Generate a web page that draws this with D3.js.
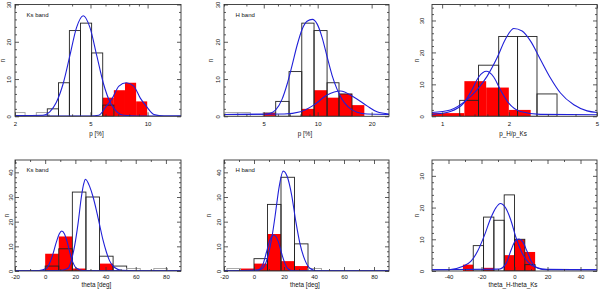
<!DOCTYPE html>
<html>
<head>
<meta charset="utf-8">
<script src="https://cdn.jsdelivr.net/npm/d3@7"></script>
<style>
  body { margin: 0; background: #fff; }
  svg { display: block; font-family: "Liberation Sans", Arial, sans-serif; }
</style>
</head>
<body>
<div id="chart"></div>
<script>
// ---- panel 1 : Ks band, p [%] (log x)
const ksPEdges = [2.0, 2.26, 2.59, 2.96, 3.39, 3.87, 4.43, 5.07, 5.80, 6.64, 7.60, 8.70, 9.95];
const ksPAll = [1, 0, 1, 2, 9, 23, 25, 17, 3, 0, 0, 0];
const ksPSel = [0, 0, 0, 0, 0, 0, 0, 0, 5, 7, 9, 4];
const ksPFitAll = [[2.0, 0.2], [2.81, 0.3], [3.05, 1.2], [3.30, 3.7], [3.59, 8.8], [3.89, 16.2], [4.22, 23.8],
  [4.58, 27], [4.97, 23.8], [5.40, 16.2], [5.85, 8.8], [6.35, 3.7], [6.89, 1.2], [7.48, 0.3], [9.0, 0.1], [15, 0.1]];
const ksPFitSel = [[2.0, 0.1], [5.0, 0.1], [5.53, 0.3], [6.00, 2.4], [6.51, 4.8], [7.06, 8.1], [7.73, 9.0],
  [8.45, 8.1], [9.17, 4.8], [9.95, 2.4], [10.8, 0.5], [12.2, 0.1], [15, 0.1]];
const ksPTicks = [2, 5, 10];

// ---- panel 2 : H band, p [%] (log x)
const hPEdges = [3.04, 3.58, 4.21, 4.96, 5.83, 6.92, 8.15, 9.54, 11.28, 13.15, 15.54, 18.21];
const hPAll = [1, 1, 0, 1, 4, 12, 25, 23, 9, 6, 0];
const hPSel = [0, 0, 0, 1, 0, 0, 2, 7, 5, 6, 3];
const hPFitAll = [[3.0, 0.5], [5.0, 0.55], [5.5, 0.9], [5.83, 1.7], [6.33, 4.6], [6.75, 8.6], [7.19, 13.6],
  [7.67, 19], [8.18, 23.3], [8.72, 25.5], [9.34, 26], [9.92, 24.8], [10.58, 21.2], [11.28, 16], [12.03, 11],
  [12.82, 7.3], [13.67, 4.6], [14.89, 2.4], [16.58, 1.1], [18.85, 0.6], [25, 0.5]];
const hPFitSel = [[3.0, 0.5], [6.5, 0.6], [8.01, 1.2], [9.50, 3], [11.28, 5.7], [13.38, 6.8], [15.88, 5.2],
  [18.85, 2.8], [21.43, 1.2], [25, 0.6]];
const hPTicks = [5, 10, 20];

// ---- panel 3 : p_H/p_Ks (log x)
const ratioEdgesAll = [1.20, 1.46, 1.80, 2.19, 2.68, 3.30];
const ratioAll = [5, 16, 25, 25, 7];
const ratioEdgesSel = [0.79, 1.0, 1.26, 1.58, 2.0, 2.51];
const ratioSel = [1, 1, 11, 9, 2];
const ratioFitAll = [[0.9, 1.2], [1.089, 2], [1.295, 5.2], [1.437, 8.3], [1.595, 12.5], [1.770, 18.3],
  [1.930, 24.1], [2.105, 27.5], [2.296, 26.7], [2.503, 23.6], [2.777, 17.8], [3.082, 12], [3.42, 7.3],
  [3.93, 3.6], [4.51, 1.7], [5.0, 1.2]];
const ratioFitSel = [[0.9, 0.6], [1.089, 1.5], [1.251, 4.1], [1.364, 8.3], [1.462, 12.3], [1.584, 14.1],
  [1.709, 12.3], [1.832, 8.3], [1.998, 4.1], [2.256, 1.5], [2.777, 0.6], [5.0, 0.5]];
const ratioTicks = [1, 2, 5];

// ---- panel 4 : Ks band, theta [deg]
const ksThEdges = [0, 9, 18, 27, 36, 45, 54, 63, 72, 81];
const ksThAll = [2, 9, 32, 30, 6, 2, 1, 0, 1];
const ksThSel = [7, 14, 1, 0, 3, 0, 0, 0, 0];
const ksThFitAll = [[-20, 0.1], [10, 0.2], [15.2, 1.1], [17.4, 4.5], [19.6, 10.5], [21.8, 19.3], [24.0, 30.1],
  [25.6, 35.5], [26.7, 37.2], [29.5, 34.2], [31.7, 30.1], [33.9, 24.7], [36.1, 18.6], [38.3, 12.6],
  [40.5, 7.8], [42.7, 4.1], [46.0, 1.4], [50.4, 0.3], [60, 0.1], [90, 0.1]];
const ksThFitSel = [[-20, 0.1], [-4, 0.2], [0.9, 1.1], [4.2, 5.1], [7.5, 11.9], [9.3, 15], [11, 16.2],
  [12.8, 15], [14.5, 11.9], [17.4, 5.1], [20.7, 1.1], [25.1, 0.2], [90, 0.1]];

// ---- panel 5 : H band, theta [deg]
const hThEdges = [-18, -9, 0, 9, 18, 27, 36, 45];
const hThAll = [1, 0, 5, 27, 38, 11, 1];
const hThSel = [0, 1, 3, 15, 4, 2, 0];
const hThFitAll = [[-20, 0.1], [4.0, 0.5], [7.3, 2.4], [9.5, 6.5], [11.8, 13.2], [14.0, 22], [15.1, 27],
  [16.6, 33.5], [19.5, 40.5], [22.2, 38.2], [25.1, 30.8], [27.9, 20], [30.6, 11.2], [33.9, 4.5],
  [37.3, 1.1], [41.7, 0.1], [90, 0.1]];
const hThFitSel = [[-20, 0.1], [1.5, 0.2], [4.0, 0.8], [6.2, 3.1], [8.4, 7.8], [10.6, 12.6], [13.3, 14.6],
  [16.2, 11.9], [18.4, 7.2], [20.6, 3.1], [22.8, 0.8], [26.2, 0.1], [90, 0.1]];
const thetaTicks = [-20, 0, 20, 40, 60, 80];

// ---- panel 6 : theta_H - theta_Ks
const dThEdges = [-31.25, -25, -18.75, -12.5, -6.25, 0, 6.25, 12.5];
const dThAll = [0, 8, 17, 16, 24, 10, 2];
const dThSel = [2, 0, 1, 0, 5, 10, 6];
const dThFitAll = [[-50, 0.4], [-39.8, 0.4], [-31.6, 1.4], [-26.5, 3], [-22.4, 6.2], [-18.4, 11],
  [-14.3, 16.8], [-11.2, 20], [-8.6, 21.3], [-5.5, 20], [-2.4, 16.3], [1.0, 10.4], [4.1, 6.2],
  [8.2, 2.8], [13.3, 1.1], [19.4, 0.5], [50, 0.4]];
const dThFitSel = [[-50, 0.4], [-9.2, 0.6], [-5.1, 2.4], [-2.0, 6.7], [0.4, 9.4], [2.7, 10.1], [5.1, 9.1],
  [7.6, 6.2], [10.2, 3], [14.3, 0.9], [19.4, 0.4], [50, 0.4]];
const dThTicks = [-40, -20, 0, 20, 40];

const countTicks = [0, 10, 20, 30, 40];

// layout
const width = 600, height = 291;
const cols = [[15, 181], [224, 389], [432, 597]];
const rows = [[4.5, 116.3], [160, 271]];

const panels = [
  { col: 0, row: 0, log: true, xDomain: [2, 15], yMax: 30, xTicks: ksPTicks, xMinor: [3, 4, 6, 7, 8, 9],
    edgesAll: ksPEdges, all: ksPAll, edgesSel: ksPEdges, sel: ksPSel, fits: [ksPFitAll, ksPFitSel],
    tag: 'Ks band', title: 'p [%]', yLab: -6, nLab: -12.3 },
  { col: 1, row: 0, log: true, xDomain: [3, 25], yMax: 30, xTicks: hPTicks, xMinor: [3, 4, 6, 7, 8, 9],
    edgesAll: hPEdges, all: hPAll, edgesSel: hPEdges, sel: hPSel, fits: [hPFitAll, hPFitSel],
    tag: 'H band', title: 'p [%]', yLab: -6, nLab: -12.7 },
  { col: 2, row: 0, log: true, xDomain: [0.9, 5], yMax: 35, xTicks: ratioTicks, xMinor: [1.2, 1.4, 1.6, 1.8, 3, 4],
    edgesAll: ratioEdgesAll, all: ratioAll, edgesSel: ratioEdgesSel, sel: ratioSel, fits: [ratioFitAll, ratioFitSel],
    tag: '', title: 'p_H/p_Ks', yLab: -10.4, nLab: -14.7 },
  { col: 0, row: 1, log: false, xDomain: [-20, 90], yMax: 45, xTicks: thetaTicks, xMinor: [-10, 10, 30, 50, 70],
    edgesAll: ksThEdges, all: ksThAll, edgesSel: ksThEdges, sel: ksThSel, fits: [ksThFitAll, ksThFitSel],
    tag: 'Ks band', title: 'theta [deg]', yLab: -4, nLab: -8.3 },
  { col: 1, row: 1, log: false, xDomain: [-20, 90], yMax: 45, xTicks: thetaTicks, xMinor: [-10, 10, 30, 50, 70],
    edgesAll: hThEdges, all: hThAll, edgesSel: hThEdges, sel: hThSel, fits: [hThFitAll, hThFitSel],
    tag: 'H band', title: 'theta [deg]', yLab: -5.3, nLab: -15.3 },
  { col: 2, row: 1, log: false, xDomain: [-50, 50], yMax: 35, xTicks: dThTicks, xMinor: [-30, -10, 10, 30],
    edgesAll: dThEdges, all: dThAll, edgesSel: dThEdges, sel: dThSel, fits: [dThFitAll, dThFitSel],
    tag: '', title: 'theta_H-theta_Ks', yLab: -10, nLab: -14.7 }
];

const rowText = [
  { pad: 5.6, titleY: 19.3, tagY: 12.5 },
  { pad: 3.4, titleY: 16.3, tagY: 12 }
];

const svg = d3.select('#chart').append('svg')
  .attr('width', width)
  .attr('height', height);

const toBins = (edges, counts) => counts
  .map((c, k) => ({ a: edges[k], b: edges[k + 1], c }))
  .filter(d => d.c > 0);

panels.forEach((p, i) => {
  const [x0, x1] = cols[p.col];
  const [y0, y1] = rows[p.row];
  const w = x1 - x0, h = y1 - y0;
  const rt = rowText[p.row];

  const x = (p.log ? d3.scaleLog() : d3.scaleLinear()).domain(p.xDomain).range([0, w]);
  const y = d3.scaleLinear().domain([0, p.yMax]).range([h, 0]);

  const g = svg.append('g').attr('transform', `translate(${x0},${y0})`);
  g.append('clipPath').attr('id', 'clip' + i)
    .append('rect').attr('width', w).attr('height', h);
  const plot = g.append('g').attr('clip-path', `url(#clip${i})`);

  // red (selected) histogram
  plot.selectAll('rect.sel')
    .data(toBins(p.edgesSel, p.sel))
    .join('rect')
    .attr('class', 'sel')
    .attr('x', d => x(d.a))
    .attr('width', d => x(d.b) - x(d.a))
    .attr('y', d => y(d.c))
    .attr('height', d => h - y(d.c))
    .attr('fill', '#ff0000');

  // open histogram of the full sample
  plot.selectAll('rect.all')
    .data(toBins(p.edgesAll, p.all))
    .join('rect')
    .attr('class', 'all')
    .attr('x', d => x(d.a))
    .attr('width', d => x(d.b) - x(d.a))
    .attr('y', d => y(d.c))
    .attr('height', d => h - y(d.c))
    .attr('fill', 'none')
    .attr('stroke', d => d.c <= 1 ? '#a0a0a0' : '#222')
    .attr('stroke-width', 0.9);

  // gaussian fits
  const line = d3.line()
    .x(d => x(d[0]))
    .y(d => y(d[1]))
    .curve(d3.curveMonotoneX);
  plot.selectAll('path.fit')
    .data(p.fits)
    .join('path')
    .attr('class', 'fit')
    .attr('d', line)
    .attr('fill', 'none')
    .attr('stroke', '#2020d8')
    .attr('stroke-width', 1.1);

  // ticks on all four sides, pointing in
  const yMajor = countTicks.filter(v => v <= p.yMax);
  const yMinor = d3.range(0, p.yMax + 0.01, 2).filter(v => v % 10 !== 0);
  const style = sel => {
    sel.select('.domain').remove();
    sel.selectAll('line').attr('stroke', '#333').attr('stroke-width', 0.8);
  };

  g.append('g').attr('transform', `translate(0,${h})`)
    .call(d3.axisBottom(x).tickValues(p.xTicks).tickSize(-4).tickPadding(rt.pad).tickFormat(d => String(d)))
    .call(style)
    .call(s => s.selectAll('text').attr('font-size', 6).attr('fill', '#111')
      .attr('font-family', '"Liberation Sans", Arial, sans-serif'));
  g.append('g').attr('transform', `translate(0,${h})`)
    .call(d3.axisBottom(x).tickValues(p.xMinor).tickSize(-2).tickFormat(''))
    .call(style);
  g.append('g')
    .call(d3.axisTop(x).tickValues(p.xTicks).tickSize(-4).tickFormat(''))
    .call(style);
  g.append('g')
    .call(d3.axisTop(x).tickValues(p.xMinor).tickSize(-2).tickFormat(''))
    .call(style);

  g.append('g')
    .call(d3.axisLeft(y).tickValues(yMajor).tickSize(-4).tickFormat(d => String(d)))
    .call(style)
    .call(s => s.selectAll('text')
      .attr('x', 0).attr('dy', null)
      .attr('text-anchor', 'middle')
      .attr('transform', `translate(${p.yLab + 2.1},0) rotate(-90)`)
      .attr('font-size', 6).attr('fill', '#111')
      .attr('font-family', '"Liberation Sans", Arial, sans-serif'));
  g.append('g')
    .call(d3.axisLeft(y).tickValues(yMinor).tickSize(-2).tickFormat(''))
    .call(style);
  g.append('g').attr('transform', `translate(${w},0)`)
    .call(d3.axisRight(y).tickValues(yMajor).tickSize(-4).tickFormat(''))
    .call(style);
  g.append('g').attr('transform', `translate(${w},0)`)
    .call(d3.axisRight(y).tickValues(yMinor).tickSize(-2).tickFormat(''))
    .call(style);

  // frame
  g.append('rect')
    .attr('width', w).attr('height', h)
    .attr('fill', 'none')
    .attr('stroke', '#333')
    .attr('stroke-width', 0.9);

  // labels
  g.append('text')
    .attr('x', w / 2 - 1.5)
    .attr('y', h + rt.titleY)
    .attr('text-anchor', 'middle')
    .attr('font-size', 6.3)
    .attr('fill', '#111')
    .text(p.title);

  g.append('text')
    .attr('transform', `translate(${p.nLab + 2},${h / 2}) rotate(-90)`)
    .attr('text-anchor', 'middle')
    .attr('font-size', 6.3)
    .attr('fill', '#111')
    .text('n');

  if (p.tag) {
    g.append('text')
      .attr('x', 11.5)
      .attr('y', rt.tagY)
      .attr('font-size', 6)
      .attr('fill', '#111')
      .text(p.tag);
  }
});
</script>
</body>
</html>
